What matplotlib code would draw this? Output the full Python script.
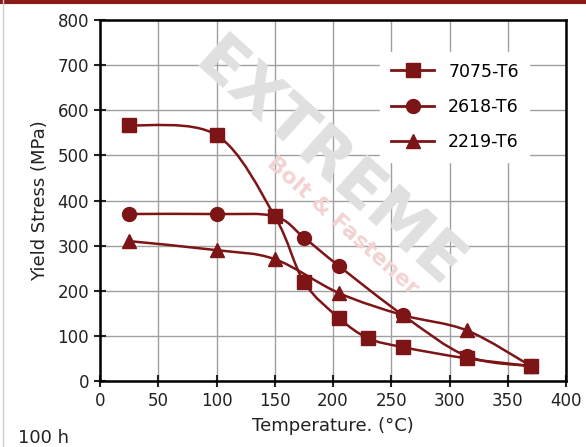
import matplotlib.pyplot as plt
import numpy as np
from matplotlib.path import Path
from matplotlib.patches import PathPatch
from matplotlib.lines import Line2D

# data
temp_7075 = [25, 100, 150, 175, 205, 230, 260, 315, 370]
ys_7075 = [567, 545, 365, 220, 140, 95, 75, 50, 33]

temp_2618 = [25, 100, 150, 175, 205, 260, 315, 370]
ys_2618 = [370, 370, 365, 318, 255, 146, 55, 33]

temp_2219 = [25, 100, 150, 205, 260, 315, 370]
ys_2219 = [310, 290, 270, 195, 146, 112, 33]

series = [
	("7075-T6", temp_7075, ys_7075, "s"),
	("2618-T6", temp_2618, ys_2618, "o"),
	("2219-T6", temp_2219, ys_2219, "^"),
]

red = "#7d1416"


def smooth_path(x, y, t=0.5):
	# catmull-rom style bezier through the points (like excel smoothed lines)
	x = np.asarray(x, float)
	y = np.asarray(y, float)
	verts = [(x[0], y[0])]
	codes = [Path.MOVETO]
	n = len(x)
	for i in range(n - 1):
		p0 = (x[max(i - 1, 0)], y[max(i - 1, 0)])
		p1 = (x[i], y[i])
		p2 = (x[i + 1], y[i + 1])
		p3 = (x[min(i + 2, n - 1)], y[min(i + 2, n - 1)])
		c1 = (p1[0] + (p2[0] - p0[0]) * t / 3, p1[1] + (p2[1] - p0[1]) * t / 3)
		c2 = (p2[0] - (p3[0] - p1[0]) * t / 3, p2[1] - (p3[1] - p1[1]) * t / 3)
		verts += [c1, c2, p2]
		codes += [Path.CURVE4] * 3
	return Path(verts, codes)


fig = plt.figure(figsize=(5.86, 4.47), dpi=100)
ax = fig.add_axes([100 / 586, 1 - 381 / 447, 466 / 586, 361 / 447])

# watermark
ax.text(0.49, 0.6, "EXTREME", transform=ax.transAxes, rotation=-42, fontsize=46,
	color="#e0e0e0", ha="center", va="center", fontweight="bold", zorder=1)
ax.text(0.52, 0.43, "Bolt & Fastener", transform=ax.transAxes, rotation=-42, fontsize=16,
	color="#f3d2d2", ha="center", va="center", fontweight="bold", zorder=1)

handles = []
for label, x, y, m in series:
	ax.add_patch(PathPatch(smooth_path(x, y), facecolor="none", edgecolor=red, lw=1.8, zorder=3))
	ax.plot(x, y, ls="none", marker=m, ms=10, color=red, zorder=4)
	handles.append(Line2D([], [], color=red, lw=2, marker=m, ms=10, label=label))

ax.set_xlim(0, 400)
ax.set_ylim(0, 800)
ax.set_xticks(range(0, 401, 50))
ax.set_yticks(range(0, 801, 100))
ax.grid(True, color="#a0a0a0", lw=1, zorder=0)
ax.set_axisbelow(True)
for s in ax.spines.values():
	s.set_linewidth(1.8)
	s.set_color("black")
ax.tick_params(direction="inout", length=8, width=1.5, labelsize=12, colors="#222222", pad=4)

ax.set_ylabel("Yield Stress (MPa)", fontsize=13, color="#222222", labelpad=6)
ax.set_xlabel("Temperature. (°C)", fontsize=13, color="#222222", labelpad=5)
fig.text(18 / 586, 1 - 438 / 447, "100 h", fontsize=13, color="#222222", va="center")

leg = ax.legend(handles=handles, loc="upper right", bbox_to_anchor=(0.94, 0.935), frameon=True,
	fontsize=12.5, handlelength=2.5, handletextpad=0.8, labelspacing=1.0, borderpad=0.6)
leg.get_frame().set_edgecolor("white")
leg.get_frame().set_facecolor("white")
leg.get_frame().set_alpha(1)

# border bits of the original image
fig.add_artist(Line2D([0, 1], [1 - 1.5 / 447] * 2, color="#8b1a1a", lw=3, transform=fig.transFigure))
fig.add_artist(Line2D([3 / 586] * 2, [0, 1], color="#cccccc", lw=1, transform=fig.transFigure))

fig.savefig("out.png", dpi=100)
